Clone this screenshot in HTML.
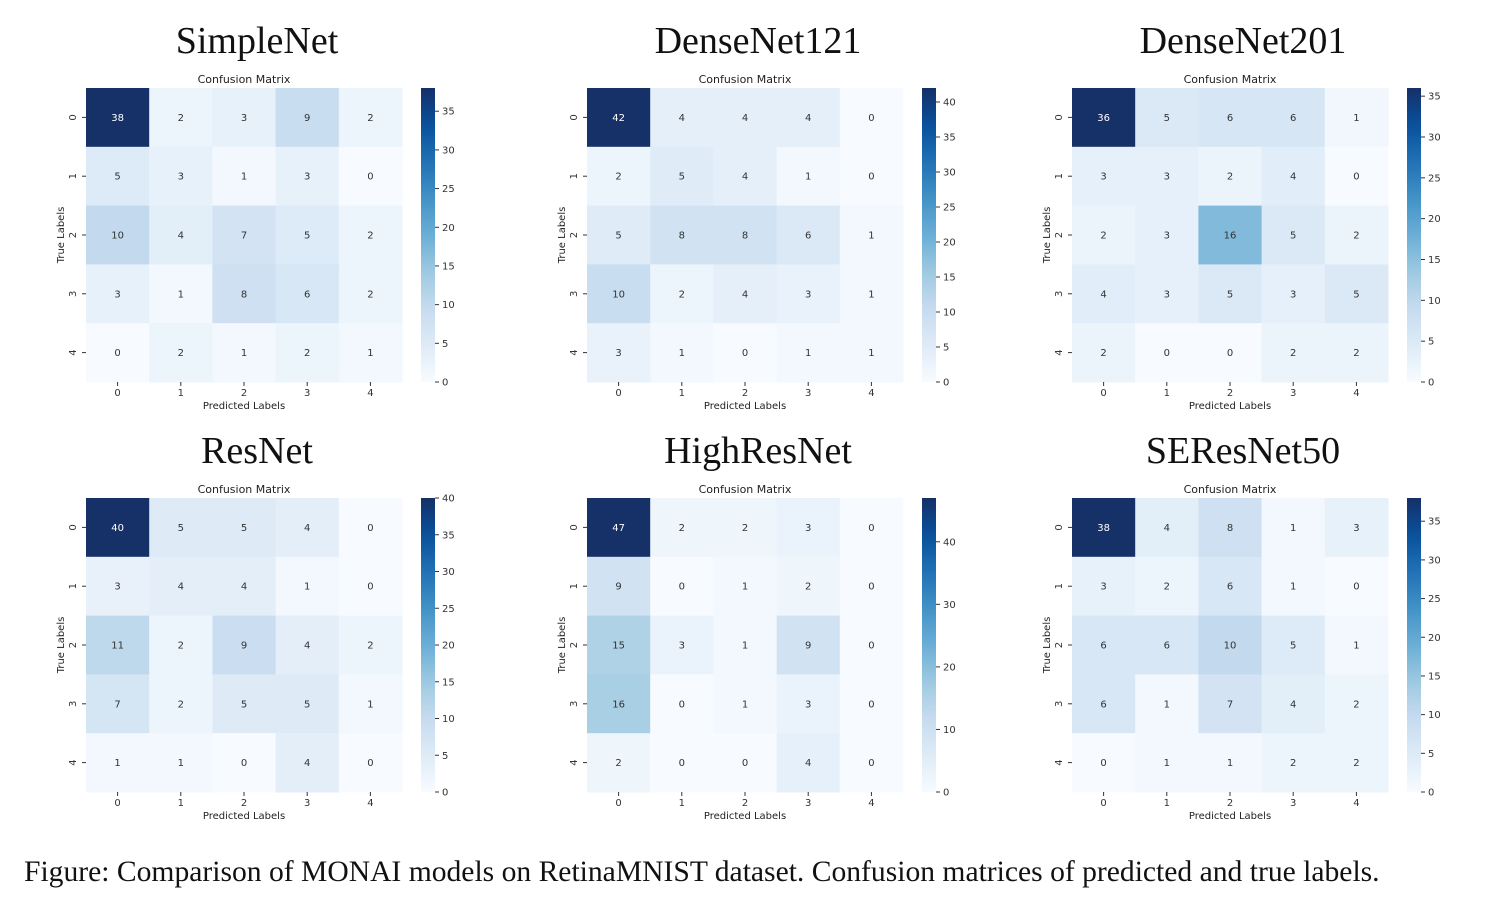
<!DOCTYPE html>
<html><head><meta charset="utf-8"><style>
body{margin:0;background:#fff;width:1494px;height:920px;overflow:hidden}
svg{display:block}
</style></head><body>
<svg id="fig" width="1494" height="920" font-family="'DejaVu Sans', sans-serif"></svg>
<script>
const models = ["SimpleNet","DenseNet121","DenseNet201","ResNet","HighResNet","SEResNet50"];
const classLabels = ["0","1","2","3","4"];
const mSimpleNet = [[38,2,3,9,2],[5,3,1,3,0],[10,4,7,5,2],[3,1,8,6,2],[0,2,1,2,1]];
const mDenseNet121 = [[42,4,4,4,0],[2,5,4,1,0],[5,8,8,6,1],[10,2,4,3,1],[3,1,0,1,1]];
const mDenseNet201 = [[36,5,6,6,1],[3,3,2,4,0],[2,3,16,5,2],[4,3,5,3,5],[2,0,0,2,2]];
const mResNet = [[40,5,5,4,0],[3,4,4,1,0],[11,2,9,4,2],[7,2,5,5,1],[1,1,0,4,0]];
const mHighResNet = [[47,2,2,3,0],[9,0,1,2,0],[15,3,1,9,0],[16,0,1,3,0],[2,0,0,4,0]];
const mSEResNet50 = [[38,4,8,1,3],[3,2,6,1,0],[6,6,10,5,1],[6,1,7,4,2],[0,1,1,2,2]];
const matrices = [mSimpleNet,mDenseNet121,mDenseNet201,mResNet,mHighResNet,mSEResNet50];
const cbTicks = [[0,5,10,15,20,25,30,35],[0,5,10,15,20,25,30,35,40],[0,5,10,15,20,25,30,35],[0,5,10,15,20,25,30,35,40],[0,10,20,30,40],[0,5,10,15,20,25,30,35]];

const stops=[[247,251,255],[222,235,247],[198,219,239],[158,202,225],[107,174,214],[66,146,198],[33,113,181],[8,81,156],[22,48,104]];
function cmap(t){t=Math.max(0,Math.min(1,t));const p=t*(stops.length-1);const i=Math.min(Math.floor(p),stops.length-2);const f=p-i;
const c=stops[i].map((v,k)=>Math.round(v+(stops[i+1][k]-v)*f));return c;}
const NS="http://www.w3.org/2000/svg";
const svg=document.getElementById('fig');
function el(tag,attrs,parent,text){const e=document.createElementNS(NS,tag);for(const k in attrs)e.setAttribute(k,attrs[k]);if(text!==undefined)e.textContent=text;(parent||svg).appendChild(e);return e;}

const colX=[86,587,1072], rowY=[88,498], W=316, H=294;
models.forEach((name,idx)=>{
  const m=matrices[idx];
  const x0=colX[idx%3], y0=rowY[Math.floor(idx/3)];
  const vmax=Math.max(...m.flat()), vmin=Math.min(...m.flat());
  const g=el('g',{});
  
  
  const t=el('text',{x:x0+171,y:y0-35,'text-anchor':'middle','font-family':"'Liberation Serif',serif",'font-size':38,fill:'#111'},g,name);
  
  const ct=el('text',{x:x0+W/2,y:y0-5,'text-anchor':'middle','font-size':11,fill:'#222'},g,'Confusion Matrix');
  
  const cw=W/5, ch=H/5;
  m.forEach((row,r)=>row.forEach((v,c)=>{
    const col=cmap((v-vmin)/(vmax-vmin));
    const rc=el('rect',{x:x0+c*cw,y:y0+r*ch,width:cw+0.5,height:ch+0.5,fill:`rgb(${col})`},g);
    
    const lum=(0.299*col[0]+0.587*col[1]+0.114*col[2])/255;
    const tx=el('text',{x:x0+c*cw+cw/2,y:y0+r*ch+ch/2+3.5,'text-anchor':'middle','font-size':10,fill:lum<0.45?'#fff':'#333'},g,String(v));
    
  }));
  classLabels.forEach((lab,i)=>{
    el('line',{x1:x0+i*cw+cw/2,x2:x0+i*cw+cw/2,y1:y0+H,y2:y0+H+4,stroke:'#333'},g);
    const xl=el('text',{x:x0+i*cw+cw/2,y:y0+H+14,'text-anchor':'middle','font-size':10,fill:'#333'},g,lab);
    
    el('line',{x1:x0-4,x2:x0,y1:y0+i*ch+ch/2,y2:y0+i*ch+ch/2,stroke:'#333'},g);
    const yl=el('text',{x:0,y:0,'text-anchor':'middle','font-size':10,fill:'#333',transform:`translate(${x0-10},${y0+i*ch+ch/2}) rotate(-90)`},g,lab);
    
  });
  const xt=el('text',{x:x0+W/2,y:y0+H+27,'text-anchor':'middle','font-size':10,fill:'#222'},g,'Predicted Labels');
  
  const yt=el('text',{x:0,y:0,'text-anchor':'middle','font-size':10,fill:'#222',transform:`translate(${x0-22},${y0+H/2}) rotate(-90)`},g,'True Labels');
  
  const cbx=x0+335, cbw=14;
  const defs=el('defs',{},g);
  const gr=el('linearGradient',{id:'gr'+idx,x1:0,y1:1,x2:0,y2:0},defs);
  for(let k=0;k<=20;k++){const c=cmap(k/20);el('stop',{offset:k/20,'stop-color':`rgb(${c})`},gr);}
  const cb=el('rect',{x:cbx,y:y0,width:cbw,height:H,fill:`url(#gr${idx})`},g);
  
  cbTicks[idx].forEach(tv=>{
    const yy=y0+H-(tv-vmin)/(vmax-vmin)*H;
    el('line',{x1:cbx+cbw,x2:cbx+cbw+4,y1:yy,y2:yy,stroke:'#333'},g);
    const tl=el('text',{x:cbx+cbw+7,y:yy+3.5,'font-size':10,fill:'#333'},g,String(tv));
    
  });
});
const cap=el('text',{x:24,y:881,'font-family':"'Liberation Serif',serif",'font-size':29.6,fill:'#111'},svg,'Figure: Comparison of MONAI models on RetinaMNIST dataset. Confusion matrices of predicted and true labels.');

</script>
</body></html>
